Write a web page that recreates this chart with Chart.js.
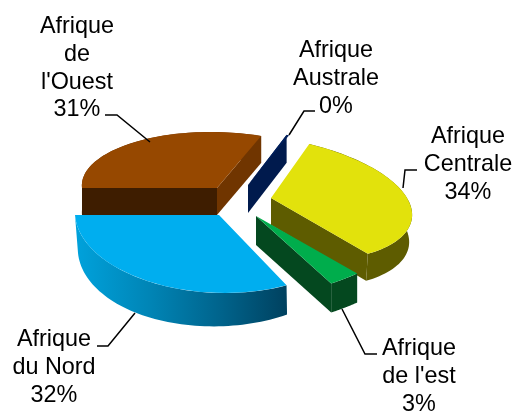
<!DOCTYPE html>
<html>
<head>
<meta charset="utf-8">
<style>
  html, body { margin: 0; background: #fff; }
  canvas { display: block; }
</style>
<script src="https://cdn.jsdelivr.net/npm/chart.js@4"></script>
</head>
<body>
<canvas id="chart1" width="515" height="412"></canvas>
<script>
const categories = [
  ['Afrique', 'de', "l'Ouest"],
  ['Afrique', 'Australe'],
  ['Afrique', 'Centrale'],
  ['Afrique', "de l'est"],
  ['Afrique', 'du Nord'],
];
const shares = [31.0, 0.4, 33.6, 2.9, 32.1];

const sliceColors = ['#964800', '#001f5c', '#e2e20c', '#00ad4c', '#00aeef'];

// how each flat slice is laid onto the tilted plane (the reference has perspective)
// low = the bottom rim when it is not just the top rim moved down
const tilt = [
  { ax: 217, ay: 188, a: 135, e: 6, c: 0, b: 56, depth: 27, outer: '#703500', startWall: '#3e1d00', endWall: '#703500' },
  { ax: 248, ay: 185, a: 105, e: 0, c: 0, b: 54, depth: 28, outer: null, startWall: '#001a4d', endWall: null },
  { ax: 271, ay: 198, a: 140, e: 18, c: 9, b: 62.5, depth: 27, low: { a: 137, e: 18, c: 9, b: 62.5 }, outer: '#5e5c00', startWall: null, endWall: '#5e5c00' },
  { ax: 256, ay: 216, a: 168, e: 3, c: -15, b: 82, depth: 29, outer: '#04481f', startWall: null, endWall: '#04481f' },
  { ax: 219, ay: 215, a: 144, e: 6, c: 0, b: 78, depth: 30, low: { a: 141, e: 8, c: -8, b: 81 }, outer: 'gradient', startWall: null, endWall: null },
];

const labelBoxes = [
  { x: 77, y: 27 },
  { x: 336, y: 51 },
  { x: 468, y: 137 },
  { x: 419, y: 349 },
  { x: 54, y: 340 },
];

const leaders = [
  [[105, 115], [117, 115], [150, 142]],
  [[315, 111], [304, 111], [289, 135]],
  [[417, 170], [405, 170], [403, 188]],
  [[377, 354], [365, 354], [342, 309]],
  [[97, 346], [108, 346], [135, 313]],
];

function onPlane(t, ang) {
  const cos = Math.cos(ang), sin = Math.sin(ang);
  return [t.ax + t.a * cos + t.e * sin, t.ay + t.c * cos + t.b * sin];
}

function onLowRim(t, ang) {
  if (!t.low) {
    const p = onPlane(t, ang);
    return [p[0], p[1] + t.depth];
  }
  const cos = Math.cos(ang), sin = Math.sin(ang);
  return [t.ax + t.low.a * cos + t.low.e * sin, t.ay + t.depth + t.low.c * cos + t.low.b * sin];
}

function fillRadial(ctx, t, ang, color) {
  const p = onPlane(t, ang);
  const q = onLowRim(t, ang);
  ctx.fillStyle = color;
  ctx.beginPath();
  ctx.moveTo(t.ax, t.ay);
  ctx.lineTo(p[0], p[1]);
  ctx.lineTo(q[0], q[1]);
  ctx.lineTo(t.ax, t.ay + t.depth);
  ctx.closePath();
  ctx.fill();
}

function fillOuter(ctx, t, start, end, color) {
  ctx.fillStyle = color;
  ctx.beginPath();
  const n = 60;
  for (let i = 0; i <= n; i++) {
    const p = onPlane(t, start + (end - start) * i / n);
    if (i === 0) ctx.moveTo(p[0], p[1]); else ctx.lineTo(p[0], p[1]);
  }
  for (let i = n; i >= 0; i--) {
    const p = onLowRim(t, start + (end - start) * i / n);
    ctx.lineTo(p[0], p[1]);
  }
  ctx.closePath();
  ctx.fill();
}

const pie3d = {
  id: 'pie3d',
  beforeDatasetsDraw(chart) {
    const ctx = chart.ctx;
    const arcs = chart.getDatasetMeta(0).data;
    arcs.forEach((arc, i) => {
      const t = tilt[i];
      const start = arc.startAngle, end = arc.endAngle;
      let outerColor = t.outer;
      if (outerColor === 'gradient') {
        outerColor = ctx.createLinearGradient(75, 0, 287, 0);
        outerColor.addColorStop(0, '#00a2dc');
        outerColor.addColorStop(0.35, '#0085b6');
        outerColor.addColorStop(0.7, '#00628a');
        outerColor.addColorStop(1, '#00415f');
      }
      if (outerColor) fillOuter(ctx, t, start, end, outerColor);
      if (t.startWall) fillRadial(ctx, t, start, t.startWall);
      if (t.endWall) fillRadial(ctx, t, end, t.endWall);

      // top face is the library's own arc, pushed through the tilt
      const R = arc.outerRadius;
      ctx.save();
      ctx.transform(
        t.a / R, t.c / R, t.e / R, t.b / R,
        t.ax - (t.a * arc.x + t.e * arc.y) / R,
        t.ay - (t.c * arc.x + t.b * arc.y) / R
      );
      arc.draw(ctx);
      ctx.restore();
    });
    return false;
  },
  afterDraw(chart) {
    const ctx = chart.ctx;
    ctx.save();
    ctx.strokeStyle = '#000';
    ctx.lineWidth = 1.5;
    leaders.forEach(line => {
      ctx.beginPath();
      line.forEach((p, i) => (i === 0 ? ctx.moveTo(p[0], p[1]) : ctx.lineTo(p[0], p[1])));
      ctx.stroke();
    });
    ctx.fillStyle = '#000';
    ctx.font = '23.4px "Liberation Sans"';
    ctx.textAlign = 'center';
    ctx.textBaseline = 'middle';
    categories.forEach((lines, i) => {
      const box = labelBoxes[i];
      const text = lines.concat(Math.round(shares[i]) + '%');
      text.forEach((s, k) => ctx.fillText(s, box.x, box.y + k * 27.6));
    });
    ctx.restore();
  },
};

const ctx1 = document.getElementById('chart1');

new Chart(ctx1, {
  type: 'pie',
  data: {
    labels: categories.map(c => c.join(' ')),
    datasets: [{
      data: shares,
      backgroundColor: sliceColors,
      borderWidth: 0,
    }],
  },
  options: {
    responsive: false,
    animation: false,
    rotation: -90,
    plugins: {
      legend: { display: false },
      tooltip: { enabled: false },
    },
  },
  plugins: [pie3d],
});
</script>
</body>
</html>
